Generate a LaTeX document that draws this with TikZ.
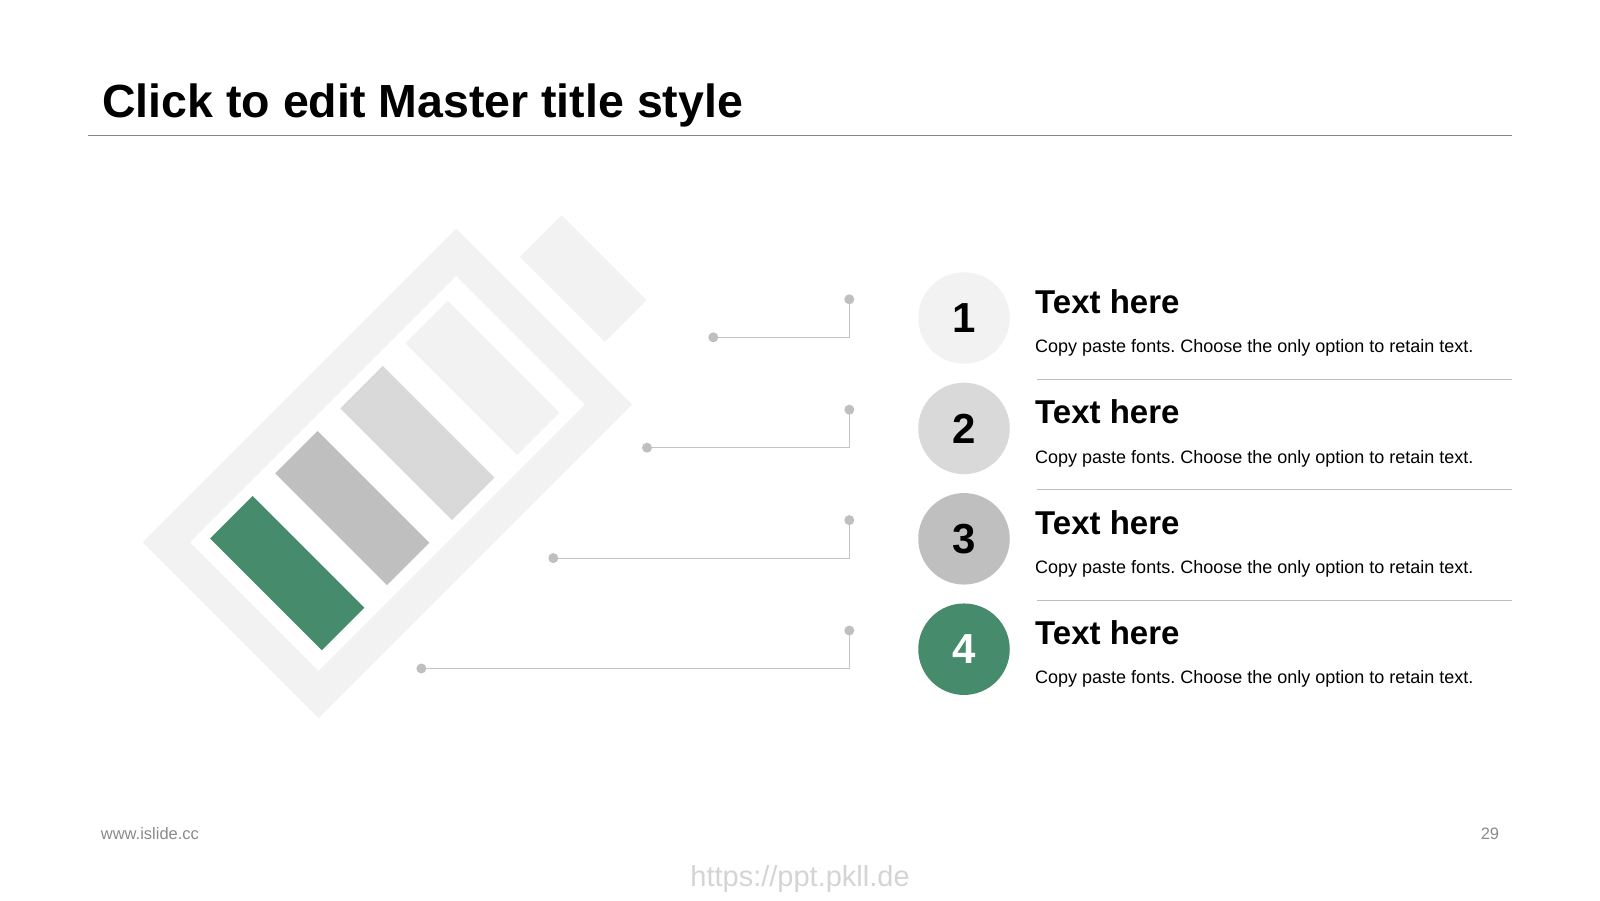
\documentclass[tikz,border=0pt]{standalone}
\usepackage{fontspec}
\setmainfont{Liberation Sans}
\usetikzlibrary{calc,positioning}
\definecolor{shell}{HTML}{F2F2F2}
\definecolor{mid}{HTML}{D9D9D9}
\definecolor{dark}{HTML}{BFBFBF}
\definecolor{leaf}{HTML}{458B6C}
\definecolor{line}{HTML}{C4C4C4}
\definecolor{rule}{HTML}{858585}
\definecolor{foot}{HTML}{8A8A8A}
\definecolor{mark}{HTML}{D4D4D4}
\frenchspacing

\begin{document}
\begin{tikzpicture}[x=1pt,y=-1pt,
  num/.style={circle,minimum size=91.5pt,inner sep=0pt,font=\fontsize{42}{42}\bfseries},
  head/.style={anchor=base west,inner sep=0pt,font=\fontsize{33}{33}\bfseries},
  body/.style={anchor=base west,inner sep=0pt,font=\fontsize{18}{18}\selectfont},
  pin/.style={draw=line,line width=1.2pt}]
\useasboundingbox (0,0) rectangle (1600,900);
% title
\node[anchor=base west,inner sep=0pt,font=\fontsize{46.5}{46.5}\bfseries] (title) at (102,117) {Click to edit Master title style};
\draw[rule,line width=1.3pt] (88,135.7) -- (1512,135.7);
% battery
\begin{scope}[shift={(456.2,228.7)},rotate=-45]
  \fill[shell] (0,0) rectangle (248.7,443.5);
  \fill[white] (33.5,33.5) rectangle (215.2,410);
  \fill[shell] (65,-84) rectangle (185,-25);
  \foreach \b/\c in {57/shell,149/mid,241/dark,333/leaf}
    \fill[\c] (45,\b) rectangle (203,\b+60);
\end{scope}
% leaders
\foreach \i/\x in {1/713.3,2/647,3/553.3,4/421.4}{
  \coordinate (p\i) at (849.3,{299.3+110.4*(\i-1)});
  \coordinate (q\i) at (\x,{337.3+110.4*(\i-1)});
  \draw[pin] (q\i) -| (p\i);
  \fill[dark] (p\i) circle (5pt) (q\i) circle (5pt);
}
% rows
\foreach \i/\c/\t in {1/shell/black,2/mid/black,3/dark/black,4/leaf/white}{
  \node[num,fill=\c,text=\t] (c\i) at (964,{318+110.4*(\i-1)}) {\i};
  \node[head] (h\i) at (1035,{313.3+110.4*(\i-1)}) {Text here};
  \node[body] (b\i) at (1035,{352.7+110.4*(\i-1)}) {Copy paste fonts. Choose the only option to retain text.};
}
\foreach \i in {1,2,3}
  \draw[dark,line width=1.2pt] (1036.5,{379.3+110.4*(\i-1)}) -- (1512,{379.3+110.4*(\i-1)});
% footer
\node[anchor=base west,inner sep=0pt,font=\fontsize{16.5}{16.5}\selectfont,text=foot] (site) at (100.7,839) {www.islide.cc};
\node[anchor=base east,inner sep=0pt,font=\fontsize{16.5}{16.5}\selectfont,text=foot] (page) at (1499.3,839.3) {29};
\node[anchor=base,inner sep=0pt,font=\fontsize{29}{29}\selectfont,text=mark] (url) at (800,886) {https://ppt.pkll.de};
\end{tikzpicture}
\end{document}
